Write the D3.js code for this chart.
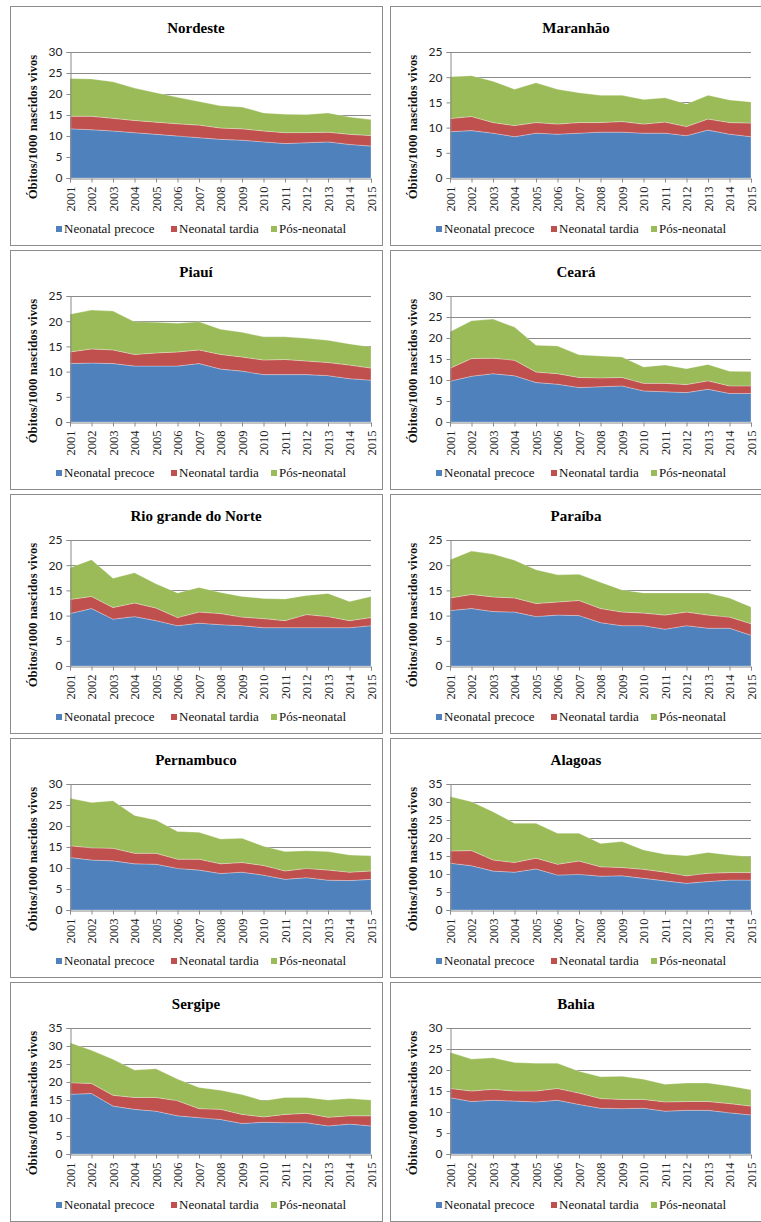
<!DOCTYPE html>
<html>
<head>
<meta charset="utf-8">
<script src="https://cdn.jsdelivr.net/npm/d3@7"></script>
<style>
  body { margin: 0; background: #fff; }
  svg { display: block; }
  .serif { font-family: "Liberation Serif", "Times New Roman", serif; }
  .sans { font-family: Lato, "Liberation Sans", sans-serif; }
</style>
</head>
<body>
<svg id="chart" width="761" height="1222"></svg>
<script>
// Infant mortality components per 1000 live births, 2001–2015
const years = [2001, 2002, 2003, 2004, 2005, 2006, 2007, 2008, 2009, 2010, 2011, 2012, 2013, 2014, 2015];
const seriesNames = ["Neonatal precoce", "Neonatal tardia", "Pós-neonatal"];
const regions = ["Nordeste", "Maranhão", "Piauí", "Ceará", "Rio grande do Norte", "Paraíba", "Pernambuco", "Alagoas", "Sergipe", "Bahia"];
const yMaxima = [30, 25, 25, 30, 25, 25, 30, 35, 35, 30];
const yTitle = "Óbitos/1000 nascidos vivos";

// One row per region, in the order of `regions`
const neonatalPrecoce = [
  [11.7, 11.5, 11.2, 10.8, 10.4, 10.0, 9.6, 9.2, 9.0, 8.6, 8.2, 8.4, 8.6, 8.0, 7.6],
  [9.2, 9.4, 8.9, 8.2, 8.9, 8.7, 8.9, 9.1, 9.1, 8.9, 8.9, 8.4, 9.5, 8.7, 8.2],
  [11.6, 11.7, 11.6, 11.1, 11.1, 11.1, 11.6, 10.5, 10.1, 9.4, 9.4, 9.4, 9.2, 8.6, 8.3],
  [9.7, 10.9, 11.5, 11.0, 9.4, 9.0, 8.2, 8.4, 8.6, 7.4, 7.2, 7.0, 7.8, 6.8, 6.8],
  [10.4, 11.4, 9.3, 9.8, 9.0, 8.0, 8.5, 8.2, 8.0, 7.6, 7.6, 7.6, 7.6, 7.6, 8.0],
  [11.0, 11.4, 10.8, 10.7, 9.8, 10.1, 10.0, 8.6, 8.0, 8.0, 7.3, 8.0, 7.5, 7.5, 6.1],
  [12.5, 11.9, 11.7, 11.0, 10.9, 9.9, 9.5, 8.7, 9.0, 8.3, 7.3, 7.7, 7.1, 7.0, 7.3],
  [13.0, 12.3, 10.8, 10.5, 11.4, 9.7, 9.9, 9.4, 9.5, 8.8, 8.1, 7.4, 7.9, 8.3, 8.3],
  [16.6, 16.8, 13.3, 12.4, 11.9, 10.6, 10.1, 9.6, 8.5, 8.8, 8.7, 8.7, 7.8, 8.3, 7.8],
  [13.4, 12.5, 12.8, 12.6, 12.4, 12.8, 11.8, 10.9, 10.8, 10.9, 10.2, 10.4, 10.4, 9.8, 9.3]
];
const neonatalTardia = [
  [3.0, 3.2, 3.0, 2.9, 2.9, 2.9, 3.0, 2.7, 2.7, 2.6, 2.6, 2.4, 2.3, 2.4, 2.5],
  [2.6, 2.8, 2.1, 2.2, 2.1, 2.0, 2.1, 1.9, 2.1, 1.8, 2.2, 1.8, 2.2, 2.3, 2.7],
  [2.3, 2.8, 2.7, 2.3, 2.6, 2.8, 2.7, 2.9, 2.8, 2.9, 3.0, 2.7, 2.6, 2.7, 2.4],
  [3.1, 4.2, 3.7, 3.7, 2.5, 2.5, 2.4, 2.1, 2.0, 1.8, 2.0, 1.9, 2.0, 1.8, 1.8],
  [2.8, 2.4, 2.3, 2.7, 2.5, 1.6, 2.2, 2.2, 1.7, 1.8, 1.4, 2.6, 2.2, 1.4, 1.6],
  [2.5, 2.8, 2.9, 2.8, 2.6, 2.6, 3.0, 2.8, 2.7, 2.5, 2.8, 2.7, 2.6, 2.2, 2.3],
  [2.8, 2.9, 3.0, 2.5, 2.6, 2.2, 2.6, 2.3, 2.3, 2.3, 2.0, 2.2, 2.4, 2.0, 2.0],
  [3.4, 4.2, 3.1, 2.7, 3.0, 3.0, 3.7, 2.6, 2.3, 2.5, 2.4, 2.1, 2.3, 2.1, 2.1],
  [3.2, 2.8, 3.0, 3.3, 3.8, 4.2, 2.5, 2.8, 2.5, 1.5, 2.3, 2.6, 2.4, 2.3, 2.8],
  [2.2, 2.5, 2.6, 2.4, 2.6, 2.8, 2.7, 2.3, 2.2, 2.1, 2.2, 2.1, 2.1, 2.2, 2.1]
];
const posNeonatal = [
  [9.0, 8.9, 8.7, 7.7, 7.0, 6.3, 5.6, 5.3, 5.2, 4.3, 4.4, 4.3, 4.6, 4.1, 3.8],
  [8.3, 8.1, 8.2, 7.2, 7.9, 6.9, 5.9, 5.4, 5.2, 4.9, 4.8, 4.5, 4.7, 4.5, 4.2],
  [7.5, 7.7, 7.7, 6.5, 6.1, 5.7, 5.6, 5.0, 4.9, 4.6, 4.5, 4.5, 4.4, 4.2, 4.2],
  [8.7, 9.0, 9.3, 7.9, 6.4, 6.6, 5.4, 5.2, 4.9, 3.9, 4.4, 3.8, 3.9, 3.5, 3.4],
  [6.3, 7.3, 5.8, 6.0, 4.8, 4.9, 4.9, 4.2, 4.1, 4.0, 4.3, 3.8, 4.6, 3.8, 4.2],
  [7.6, 8.6, 8.5, 7.5, 6.7, 5.4, 5.2, 5.2, 4.4, 4.0, 4.4, 3.8, 4.4, 3.8, 3.3],
  [11.3, 10.8, 11.3, 9.0, 7.9, 6.6, 6.4, 5.9, 5.8, 4.6, 4.6, 4.2, 4.4, 4.1, 3.6],
  [15.1, 13.6, 13.4, 10.9, 9.7, 8.6, 7.7, 6.5, 7.2, 5.4, 5.0, 5.6, 5.8, 4.9, 4.4],
  [11.1, 9.2, 10.0, 7.6, 8.0, 6.0, 5.9, 5.3, 5.5, 4.5, 4.7, 4.4, 4.8, 4.8, 4.4],
  [8.6, 7.6, 7.5, 6.8, 6.6, 6.0, 5.2, 5.2, 5.5, 4.8, 4.2, 4.4, 4.4, 4.2, 3.9]
];

const colors = ["#4F81BD", "#C0504D", "#9BBB59"];

const svg = d3.select("#chart");

// Panel grid: two columns, five rows
const panelW = 372, panelH = 239;
const colLeft = [10, 390];
const rowTop = d3.range(5).map(r => 6 + r * 244);

const plotLeft = 60, plotRight = 361, plotTop = 46, plotBottom = 172;

regions.forEach((name, i) => {
  const col = i % 2, row = Math.floor(i / 2);
  const fx = colLeft[col], fy = rowTop[row];
  const g = svg.append("g").attr("transform", `translate(${fx},${fy})`);

  // frame
  g.append("rect")
    .attr("x", 0.5).attr("y", 0.5)
    .attr("width", panelW).attr("height", panelH)
    .attr("fill", "#fff")
    .attr("stroke", "#8c8c8c")
    .attr("stroke-width", 1);

  // title
  g.append("text")
    .attr("class", "serif")
    .attr("x", panelW / 2).attr("y", 27)
    .attr("text-anchor", "middle")
    .style("font-weight", "bold")
    .style("font-size", "15px")
    .attr("fill", "#000")
    .text(name);

  const x = d3.scalePoint().domain(years).range([plotLeft, plotRight]);
  const y = d3.scaleLinear().domain([0, yMaxima[i]]).range([plotBottom, plotTop]);

  // gridlines
  const ticks = d3.range(0, yMaxima[i] + 0.001, 5);
  g.append("g").selectAll("line")
    .data(ticks.filter(t => t > 0))
    .join("line")
    .attr("x1", plotLeft).attr("x2", plotRight)
    .attr("y1", d => Math.round(y(d)) + 0.5).attr("y2", d => Math.round(y(d)) + 0.5)
    .attr("stroke", "#8a8a8a").attr("stroke-width", 1);

  // stacked areas
  const rows = years.map((yr, k) => ({
    year: yr,
    [seriesNames[0]]: neonatalPrecoce[i][k],
    [seriesNames[1]]: neonatalTardia[i][k],
    [seriesNames[2]]: posNeonatal[i][k]
  }));
  const stacked = d3.stack().keys(seriesNames)(rows);
  const area = d3.area()
    .x(d => x(d.data.year))
    .y0(d => y(d[0]))
    .y1(d => y(d[1]));
  g.append("g").selectAll("path")
    .data(stacked)
    .join("path")
    .attr("d", area)
    .attr("fill", (d, k) => colors[k])
    .attr("stroke", "rgba(255,255,255,0.35)")
    .attr("stroke-width", 0.8);

  // y axis
  const yAxis = d3.axisLeft(y).tickValues(ticks).tickSize(4).tickPadding(4).tickFormat(d3.format("d"));
  const ya = g.append("g").attr("transform", `translate(${plotLeft + 0.5},0)`).call(yAxis);
  ya.select(".domain").attr("stroke", "#8a8a8a");
  ya.selectAll(".tick line").attr("stroke", "#8a8a8a");
  ya.selectAll(".tick text")
    .attr("class", "sans")
    .style("font-size", "12px").attr("fill", "#222");

  // x axis
  const xAxis = d3.axisBottom(x).tickSize(4).tickPadding(0);
  const xa = g.append("g").attr("transform", `translate(0,${plotBottom + 0.5})`).call(xAxis);
  xa.select(".domain").attr("stroke", "#8a8a8a");
  xa.selectAll(".tick line").attr("stroke", "#8a8a8a");
  xa.selectAll(".tick text")
    .attr("class", "serif")
    .style("font-size", "12.5px").attr("fill", "#222")
    .attr("text-anchor", "end")
    .attr("transform", "translate(0,8) rotate(-90)")
    .attr("x", 0).attr("y", 0).attr("dy", "0.35em");

  // y axis title
  g.append("text")
    .attr("class", "serif")
    .attr("transform", `translate(27,${plotTop + 75}) rotate(-90)`)
    .attr("text-anchor", "middle")
    .style("font-weight", "bold")
    .style("font-size", "12.7px")
    .attr("fill", "#111")
    .text(yTitle);

  // legend
  const legendX = [-140, -25, 75];
  const lg = g.append("g").attr("transform", `translate(${panelW / 2},224)`);
  seriesNames.forEach((s, k) => {
    lg.append("rect")
      .attr("x", legendX[k]).attr("y", -4)
      .attr("width", 6).attr("height", 6)
      .attr("fill", colors[k]);
    lg.append("text")
      .attr("class", "serif")
      .attr("x", legendX[k] + 8).attr("y", 3)
      .style("font-size", "13px")
      .attr("fill", "#111")
      .text(s);
  });
});
</script>
</body>
</html>
